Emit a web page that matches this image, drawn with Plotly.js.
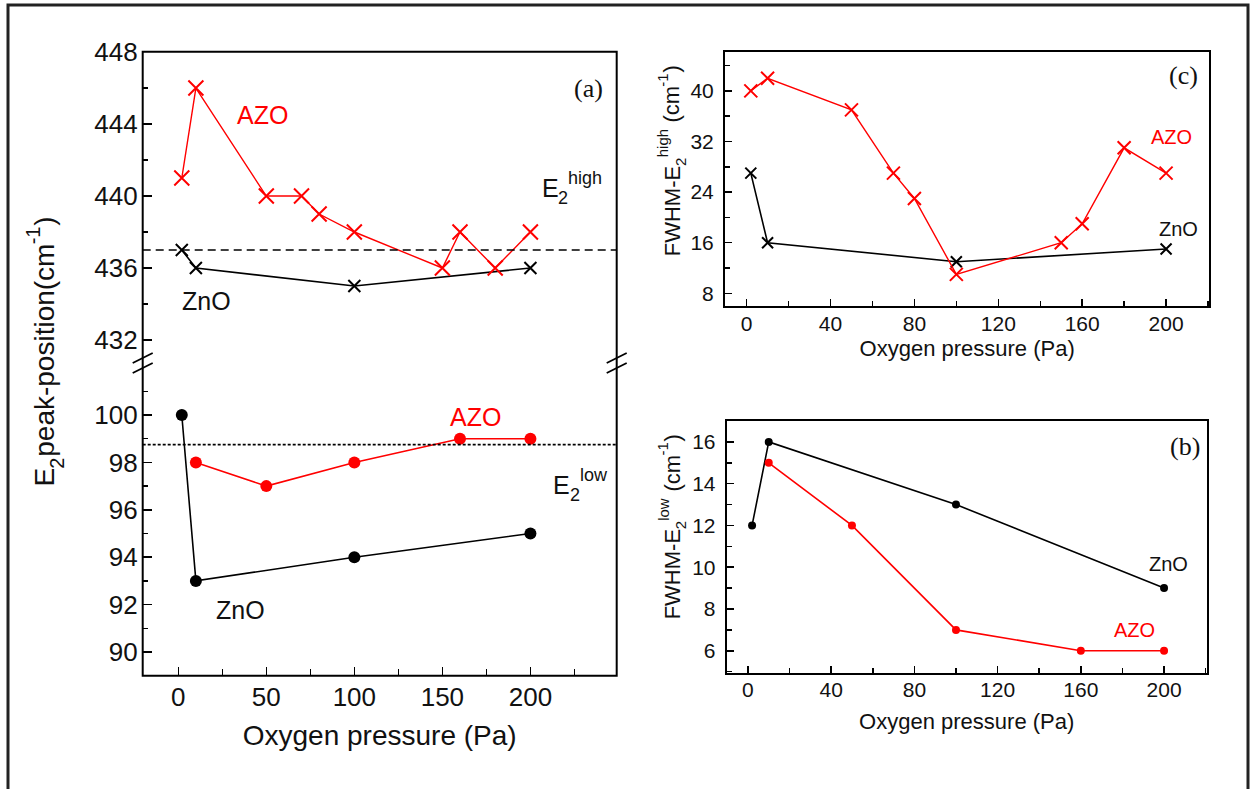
<!DOCTYPE html>
<html>
<head>
<meta charset="utf-8">
<script src="https://cdn.plot.ly/plotly-3.0.1.min.js"></script>
<style>
html,body{margin:0;padding:0;background:#fff;}
#chart{width:1251px;height:789px;}
</style>
</head>
<body>
<div id="chart"></div>
<script>
// ---------- DATA ----------
// Panel (a) upper: E2(high) peak position (cm-1)
const xA_AZO_high = [2, 10, 50, 70, 80, 100, 150, 160, 180, 200];
const yA_AZO_high = [441, 446, 440, 440, 439, 438, 436, 438, 436, 438];
const xA_ZnO_high = [2, 10, 100, 200];
const yA_ZnO_high = [437, 436, 435, 436];
const refHigh = 437;
// Panel (a) lower: E2(low) peak position (cm-1)
const xA_ZnO_low = [2, 10, 100, 200];
const yA_ZnO_low = [100, 93, 94, 95];
const xA_AZO_low = [10, 50, 100, 160, 200];
const yA_AZO_low = [98, 97, 98, 99, 99];
const refLow = 98.75;
// Panel (c): FWHM E2(high)
const xC_AZO = [2, 10, 50, 70, 80, 100, 150, 160, 180, 200];
const yC_AZO = [40, 42, 37, 27, 23, 11, 16, 19, 31, 27];
const xC_ZnO = [2, 10, 100, 200];
const yC_ZnO = [27, 16, 13, 15];
// Panel (b): FWHM E2(low)
const xB_ZnO = [2, 10, 100, 200];
const yB_ZnO = [12, 16, 13, 9];
const xB_AZO = [10, 50, 100, 160, 200];
const yB_AZO = [15, 12, 7, 6, 6];

const xTitle = "Oxygen pressure (Pa)";
// rich labels: [text, kind] with kind n = normal, sub, sup
const titleA = [["E", "n"], ["2", "sub"], ["peak-position(cm", "n"], ["-1", "sup"], [")", "n"]];
const titleC = [["FWHM-E", "n"], ["2", "sub"], ["high", "sup"], [" (cm", "n"], ["-1", "sup"], [")", "n"]];
const titleB = [["FWHM-E", "n"], ["2", "sub"], ["low", "sup"], [" (cm", "n"], ["-1", "sup"], [")", "n"]];
const labelHigh = [["E", "n"], ["2", "sub"], ["high", "sup"]];
const labelLow = [["E", "n"], ["2", "sub"], ["low", "sup"]];

// ---------- LAYOUT HELPERS ----------
const W = 1251, H = 789;
const fx = p => p / W;
const fy = p => 1 - p / H;
const RED = "#ff0000", BLK = "#000000";
const SANS = "Arial, 'Liberation Sans', sans-serif";
const SERIF = "'Times New Roman', 'Liberation Serif', serif";

function tr(x, y, xa, ya, color, symbol, size, lw) {
  const isX = symbol.indexOf("x") === 0;
  return {
    x: x, y: y, xaxis: xa, yaxis: ya, type: "scatter", mode: "lines+markers",
    line: {color: color, width: lw},
    marker: isX ? {symbol: symbol, size: size, color: color, line: {color: color, width: 2}}
                : {symbol: symbol, size: size, color: color},
    showlegend: false, hoverinfo: "x+y"
  };
}

const data = [
  tr(xA_ZnO_high, yA_ZnO_high, "x", "y", BLK, "x-thin-open", 12, 1.6),
  tr(xA_AZO_high, yA_AZO_high, "x", "y", RED, "x-thin-open", 15, 1.4),
  tr(xA_ZnO_low, yA_ZnO_low, "x2", "y2", BLK, "circle", 12, 1.6),
  tr(xA_AZO_low, yA_AZO_low, "x2", "y2", RED, "circle", 12, 1.6),
  tr(xC_ZnO, yC_ZnO, "x3", "y3", BLK, "x-thin-open", 11, 1.6),
  tr(xC_AZO, yC_AZO, "x3", "y3", RED, "x-thin-open", 13, 1.4),
  tr(xB_ZnO, yB_ZnO, "x4", "y4", BLK, "circle", 8, 1.6),
  tr(xB_AZO, yB_AZO, "x4", "y4", RED, "circle", 8, 1.6)
];

function ax(extra, fontSize, tlen) {
  return Object.assign({
    showgrid: false, zeroline: false, ticks: "inside", ticklen: tlen, tickwidth: 1.5,
    tickcolor: "#000", linecolor: "#000", linewidth: 2,
    tickfont: {family: SANS, size: fontSize, color: "#111"},
    fixedrange: true
  }, extra);
}

// Panel (a) geometry (pixels)
const aL = 142.7, aR = 616.7, aT = 51.7, aB = 675.7, aBreakU = 358, aBreakL = 370;
// Panel (c)
const cL = 725, cR = 1209.3, cT = 52.3, cB = 306;
// Panel (b)
const bL = 726.7, bR = 1206.7, bT = 421, bB = 672.7;

const layout = {
  width: W, height: H,
  margin: {l: 0, r: 0, t: 0, b: 0, pad: 0},
  paper_bgcolor: "#fff", plot_bgcolor: "rgba(0,0,0,0)",
  showlegend: false,
  font: {family: SANS, color: "#111"},
  // (a) upper
  xaxis: ax({domain: [fx(aL), fx(aR)], anchor: "y", range: [-20.2, 249],
             showticklabels: false, ticks: "", showline: false}, 26, 0),
  yaxis: ax({domain: [fy(aBreakU), fy(aT)], anchor: "x", range: [431, 448.02],
             tick0: 0, dtick: 4, showline: false, ticklabelstandoff: 4,
             minor: {dtick: 2, ticks: "inside", ticklen: 5, tickwidth: 1.5, tickcolor: "#000"}}, 26, 9),
  // (a) lower
  xaxis2: ax({domain: [fx(aL), fx(aR)], anchor: "y2", range: [-20.2, 249],
              tick0: 0, dtick: 50, showline: false, ticklabelstandoff: 3,
              minor: {dtick: 25, ticks: "inside", ticklen: 7, tickwidth: 1.5, tickcolor: "#000"},
              title: {text: xTitle, font: {family: SANS, size: 28, color: "#111"}, standoff: 14}}, 26, 9),
  yaxis2: ax({domain: [fy(aB), fy(aBreakL)], anchor: "x2", range: [89, 101.9],
              tick0: 0, dtick: 2, showline: false, ticklabelstandoff: 4,
              minor: {dtick: 1, ticks: "inside", ticklen: 5, tickwidth: 1.5, tickcolor: "#000"}}, 26, 9),
  // (c)
  xaxis3: ax({domain: [fx(cL), fx(cR)], anchor: "y3", range: [-10.3, 220.6],
              tick0: 0, dtick: 40, showline: true, mirror: true, ticklabelstandoff: -2,
              minor: {dtick: 20, ticks: "inside", ticklen: 5, tickwidth: 1.5, tickcolor: "#000"},
              title: {text: xTitle, font: {family: SANS, size: 22, color: "#111"}, standoff: 6}}, 21, 7),
  yaxis3: ax({domain: [fy(cB), fy(cT)], anchor: "x3", range: [6, 46.1],
              tick0: 0, dtick: 8, showline: true, mirror: true, ticklabelstandoff: 5,
              minor: {dtick: 4, ticks: "inside", ticklen: 5, tickwidth: 1.5, tickcolor: "#000"}}, 21, 7),
  // (b)
  xaxis4: ax({domain: [fx(bL), fx(bR)], anchor: "y4", range: [-10.2, 220.5],
              tick0: 0, dtick: 40, showline: true, mirror: true, ticklabelstandoff: -3,
              minor: {dtick: 20, ticks: "inside", ticklen: 5, tickwidth: 1.5, tickcolor: "#000"},
              title: {text: xTitle, font: {family: SANS, size: 22, color: "#111"}, standoff: 14}}, 21, 7),
  yaxis4: ax({domain: [fy(bB), fy(bT)], anchor: "x4", range: [4.95, 17],
              tick0: 0, dtick: 2, showline: true, mirror: true, ticklabelstandoff: 5,
              minor: {dtick: 1, ticks: "inside", ticklen: 5, tickwidth: 1.5, tickcolor: "#000"}}, 21, 7),
  shapes: [
    // outer figure border
    {type: "rect", xref: "paper", yref: "paper", x0: fx(8), x1: fx(1248), y0: -0.05, y1: fy(5),
     line: {color: "#222", width: 3}, fillcolor: "rgba(0,0,0,0)"},
    // panel (a) frame
    {type: "rect", xref: "paper", yref: "paper", x0: fx(aL), x1: fx(aR), y0: fy(aB), y1: fy(aT),
     line: {color: "#000", width: 2}, fillcolor: "rgba(0,0,0,0)"},
    // reference lines
    {type: "line", xref: "paper", yref: "y", x0: fx(aL), x1: fx(aR), y0: refHigh, y1: refHigh,
     line: {color: "#000", width: 1.6, dash: "8px,5px"}},
    {type: "line", xref: "paper", yref: "y2", x0: fx(aL), x1: fx(aR), y0: refLow, y1: refLow,
     line: {color: "#000", width: 1.6, dash: "3px,2px"}},
    // axis break marks
    {type: "line", xref: "paper", yref: "paper", x0: fx(aL - 10), x1: fx(aL + 10), y0: fy(363), y1: fy(353), line: {color: "#000", width: 1.8}},
    {type: "line", xref: "paper", yref: "paper", x0: fx(aL - 10), x1: fx(aL + 10), y0: fy(373), y1: fy(363), line: {color: "#000", width: 1.8}},
    {type: "line", xref: "paper", yref: "paper", x0: fx(aR - 10), x1: fx(aR + 10), y0: fy(363), y1: fy(353), line: {color: "#000", width: 1.8}},
    {type: "line", xref: "paper", yref: "paper", x0: fx(aR - 10), x1: fx(aR + 10), y0: fy(373), y1: fy(363), line: {color: "#000", width: 1.8}}
  ],
  annotations: []
};

function ann(text, px, py, size, color, family, extra) {
  layout.annotations.push(Object.assign({
    text: text, xref: "paper", yref: "paper", x: fx(px), y: fy(py),
    xanchor: "center", yanchor: "middle", showarrow: false,
    borderpad: 0, borderwidth: 0,
    font: {family: family || SANS, size: size, color: color || "#111"}
  }, extra || {}));
}

// text measurement for composing sub/superscripts from separate text pieces
const mctx = document.createElement("canvas").getContext("2d");
function tw(t, size) { mctx.font = size + "px Arial, 'Liberation Sans', sans-serif"; return mctx.measureText(t).width; }

function rich(segs, cx, cy, size, color, rotated) {
  const small = Math.round(size * 0.7);
  const items = segs.map(([t, k]) => {
    const s = k === "n" ? size : small;
    const trimmed = t.replace(/^\s+/, "");
    const lead = t.length - trimmed.length;
    return {t: trimmed, k: k, s: s, lead: lead ? tw(" ".repeat(lead), s) : 0, w: tw(trimmed, s)};
  });
  const total = items.reduce((a, it) => a + it.lead + it.w, 0);
  let pos = -total / 2;
  items.forEach(it => {
    pos += it.lead;
    const off = it.k === "sub" ? 0.42 * size : it.k === "sup" ? -0.42 * size : 0;
    if (!rotated) {
      ann(it.t, cx + pos, cy + off, it.s, color, SANS, {xanchor: "left", yanchor: "middle"});
    } else {
      ann(it.t, cx + off, cy - pos, it.s, color, SANS, {xanchor: "center", yanchor: "bottom", textangle: -90});
    }
    pos += it.w;
  });
}

// Panel (a)
rich(titleA, 45, 352, 28, "#111", true);
ann("(a)", 588, 88, 26, "#111", SERIF);
ann("AZO", 262, 115, 25, RED);
ann("ZnO", 206, 301, 25, "#111");
rich(labelHigh, 572, 188, 25, "#111", false);
ann("AZO", 475, 417, 25, RED);
ann("ZnO", 240, 610, 25, "#111");
rich(labelLow, 580, 485, 25, "#111", false);
// Panel (c)
rich(titleC, 672, 161, 22, "#111", true);
ann("(c)", 1183, 76, 26, "#111", SERIF);
ann("AZO", 1171, 137, 20, RED);
ann("ZnO", 1178, 229, 20, "#111");
// Panel (b)
rich(titleB, 672, 527, 22, "#111", true);
ann("(b)", 1185, 447, 26, "#111", SERIF);
ann("ZnO", 1168, 564, 20, "#111");
ann("AZO", 1134, 630, 20, RED);

Plotly.newPlot("chart", data, layout, {displayModeBar: false, staticPlot: true});
</script>
</body>
</html>
